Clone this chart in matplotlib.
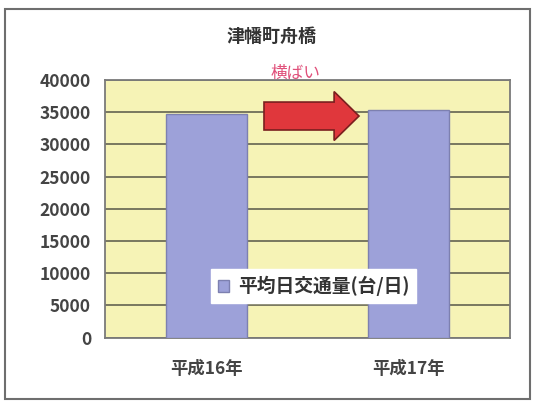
import matplotlib.pyplot as plt
import matplotlib.patches as mpatches

plt.rcParams['font.family'] = ['Noto Sans CJK JP', 'DejaVu Sans']

# data
years = ["平成16年", "平成17年"]
traffic = [34800, 35300]
yticks = [0, 5000, 10000, 15000, 20000, 25000, 30000, 35000, 40000]
title = "津幡町舟橋"
series_name = "平均日交通量(台/日)"
note = "横ばい"


def make_graph():
    fig = plt.figure(figsize=(5.41, 4.05), dpi=100)
    ax = fig.add_axes([0.194, 0.1664, 0.749, 0.636])

    # outer chart frame
    frame = mpatches.Rectangle((0.009, 0.015), 0.97, 0.962, transform=fig.transFigure,
                               fill=False, edgecolor="#6e6e6e", linewidth=1.5)
    fig.patches.append(frame)

    ax.set_facecolor("#f6f3b6")
    x = range(len(years))
    ax.bar(x, traffic, width=0.4, color="#9da1d9", edgecolor="#7d80b0",
           linewidth=1.0, zorder=3, label=series_name)

    ax.set_xlim(-0.5, 1.5)
    ax.set_ylim(0, 40000)
    ax.set_yticks(yticks)
    ax.set_yticklabels([str(v) for v in yticks], fontsize=12.5,
                       fontweight="bold", color="#444444")
    ax.set_xticks(list(x))
    ax.set_xticklabels(years, fontsize=12.5, fontweight="bold", color="#444444")
    ax.tick_params(length=0, pad=10)
    ax.tick_params(axis="x", pad=16)
    ax.yaxis.grid(True, color="#6e6e58", linewidth=1.3, zorder=1)
    ax.set_axisbelow(True)
    for sp in ax.spines.values():
        sp.set_color("#7a7a7a")
        sp.set_linewidth(1.3)

    fig.text(0.502, 0.91, title, ha="center", va="center", fontsize=13,
             fontweight="bold", color="#333333")

    # trend arrow
    arrow = mpatches.FancyArrow(0.285, 34410, 0.469, 0, width=4340,
                                head_width=7590, head_length=0.123,
                                length_includes_head=True,
                                facecolor="#e0373c", edgecolor="#7a1f1f",
                                linewidth=1.2, zorder=5)
    ax.add_patch(arrow)
    ax.text(0.44, 41000, note, ha="center", va="center", fontsize=12,
            color="#e0507a", zorder=6, clip_on=False)

    leg = ax.legend(loc="center", bbox_to_anchor=(0.515, 0.2), fontsize=13.5,
                    frameon=True, fancybox=False, handlelength=0.6,
                    handleheight=0.6, handletextpad=0.5, borderpad=0.35)
    leg.get_frame().set_facecolor("white")
    leg.get_frame().set_edgecolor("white")
    leg.get_frame().set_alpha(1)
    for t in leg.get_texts():
        t.set_fontweight("bold")
        t.set_color("#333333")

    fig.savefig("out.png", dpi=100)


def main():
    make_graph()


if __name__ == "__main__":
    main()
